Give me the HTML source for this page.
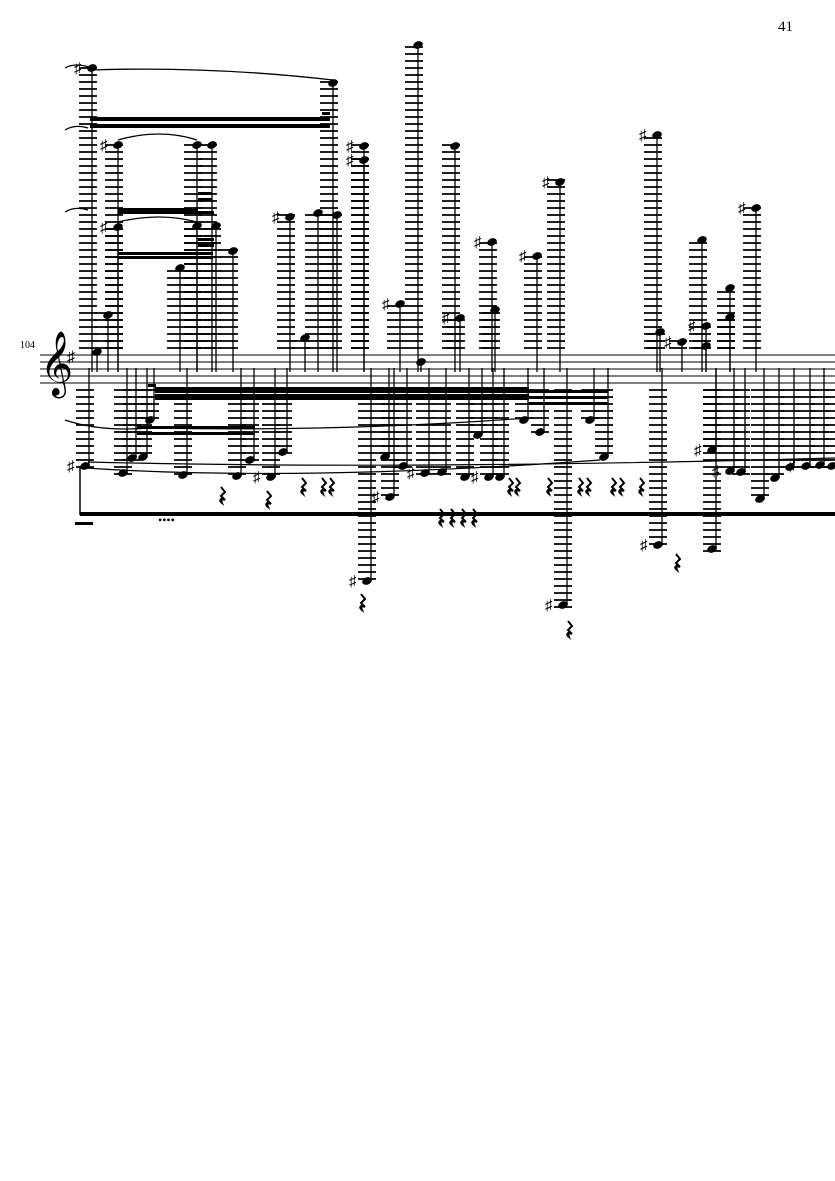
<!DOCTYPE html>
<html><head><meta charset="utf-8"><style>
html,body{margin:0;padding:0;background:#fff;width:835px;height:1181px;overflow:hidden}
svg{position:absolute;left:0;top:0}
text{font-family:"Liberation Serif","DejaVu Serif",serif;fill:#000}
</style></head><body>
<svg id="s" width="835" height="1181" viewBox="0 0 835 1181" xmlns="http://www.w3.org/2000/svg">
<text x="778" y="31" font-size="15">41</text>
<text x="20" y="348" font-size="10">104</text>
<g stroke="#000" stroke-width="1">
<line x1="40" y1="355" x2="835" y2="355"/><line x1="40" y1="362" x2="835" y2="362"/>
<line x1="40" y1="369" x2="835" y2="369"/><line x1="40" y1="376" x2="835" y2="376"/>
<line x1="40" y1="383" x2="835" y2="383"/>
</g>
<text x="40" y="382" font-size="56" font-family="DejaVu Sans">𝄞</text>
<text x="67" y="362" font-size="16">♯</text>
<g id="g"></g>
</svg>
<script>
var g=document.getElementById('g'),h='';
function L(x1,y1,x2,y2,w){h+='<line x1="'+x1+'" y1="'+y1+'" x2="'+x2+'" y2="'+y2+'" stroke="#000" stroke-width="'+(w||1)+'"/>';}
function R(x,y,w,hh){h+='<rect x="'+x+'" y="'+y+'" width="'+w+'" height="'+hh+'"/>';}
function N(x,y){h+='<ellipse cx="'+x+'" cy="'+y+'" rx="5" ry="3.6" transform="rotate(-22 '+x+' '+y+')"/>';}
function S(x,y){h+='<text x="'+(x-14)+'" y="'+(y+5)+'" font-size="15">♯</text>';}
function up(x,y,sh){var sx=x-5;for(var ly=348;ly>y-3;ly-=7)L(sx-8,ly,sx+10,ly,1.8);L(sx+5,y,sx+5,372,1.3);N(x,y);if(sh)S(x-4,y);}
function dn(x,y,sh,st){for(var ly=390;ly<y+3;ly+=7)L(x-9,ly,x+9,ly,1.8);L(x+4,st||368,x+4,y,1.3);N(x,y);if(sh)S(x-4,y);}
function rest(x,y){h+='<path d="M'+(x+2)+','+(y-16)+' l4,5 l-4,4 l4,4 q-5,-2 -3,3 q-4,-3 1,-5" fill="none" stroke="#000" stroke-width="2"/>';}
[[92,68,1],[118,145,1],[118,227,1],[108,315],[97,352],[197,145],[212,145],[197,226],[216,226],[180,268],[233,251],[290,217,1],[305,338],[318,213],[337,215],[333,83],[364,146,1],[364,160,1],[400,304,1],[418,45],[421,362],[455,146],[460,318,1],[492,242,1],[495,310],[537,256,1],[560,182,1],[657,135,1],[660,332],[682,342,1],[702,240],[706,326,1],[706,346],[730,288],[730,317],[756,208,1]].forEach(function(n){up(n[0],n[1],n[2]);});
[[85,466,1],[123,473],[132,458],[143,457],[150,420],[183,475],[237,476],[250,460],[271,477,1],[283,452],[367,581,1],[385,457],[390,497,1],[403,466],[425,473,1],[442,472],[465,477],[478,435],[489,477,1],[500,477],[524,420],[540,432],[563,605,1],[590,420],[604,457],[658,545,1],[712,549],[712,450,1],[730,471,1],[741,472],[760,499],[775,478],[790,467],[806,466,1],[820,465],[832,466]].forEach(function(n){dn(n[0],n[1],n[2]);});
R(90,117,240,4);R(90,124,240,4);R(322,112,8,3);
R(118,208,80,3);R(118,211,96,3);R(198,192,14,3);R(198,198,14,3);
R(118,252,95,3);R(118,256,95,3);R(198,238,16,3);R(198,244,16,3);
R(155,387,374,6);R(155,394,374,6);R(148,384,8,3);
R(528,390,80,3);R(528,396,80,3);R(528,402,80,3);
R(137,426,118,3);R(137,432,118,3);
R(80,512,755,4);L(80,466,80,515,1.5);
R(75,522,18,3);
h+='<path d="M92,70 Q210,66 333,80" fill="none" stroke="#000" stroke-width="1.3"/>';
h+='<path d="M118,140 Q160,128 197,140" fill="none" stroke="#000" stroke-width="1.3"/>';
h+='<path d="M118,222 Q160,212 197,222" fill="none" stroke="#000" stroke-width="1.3"/>';
h+='<path d="M65,420 Q100,432 150,428 Q340,432 528,418" fill="none" stroke="#000" stroke-width="1.2"/>';
h+='<path d="M85,468 Q300,482 600,460" fill="none" stroke="#000" stroke-width="1.2"/>';
h+='<path d="M88,462 Q400,470 835,458" fill="none" stroke="#000" stroke-width="1.2"/>';
h+='<path d="M65,68 Q75,62 92,68" fill="none" stroke="#000" stroke-width="1.2"/>';
h+='<path d="M65,130 Q75,124 88,128" fill="none" stroke="#000" stroke-width="1.2"/>';
h+='<path d="M65,212 Q75,206 88,210" fill="none" stroke="#000" stroke-width="1.2"/>';
[[219,503],[265,507],[300,494],[320,494],[328,494],[359,610],[438,525],[449,525],[460,525],[471,525],[507,494],[514,494],[546,494],[577,494],[585,494],[610,494],[618,494],[638,494],[674,570],[566,637]].forEach(function(r){rest(r[0],r[1]);});
h+='<text x="158" y="524" font-size="12">••••</text>';
g.innerHTML=h;
</script>
</body></html>
